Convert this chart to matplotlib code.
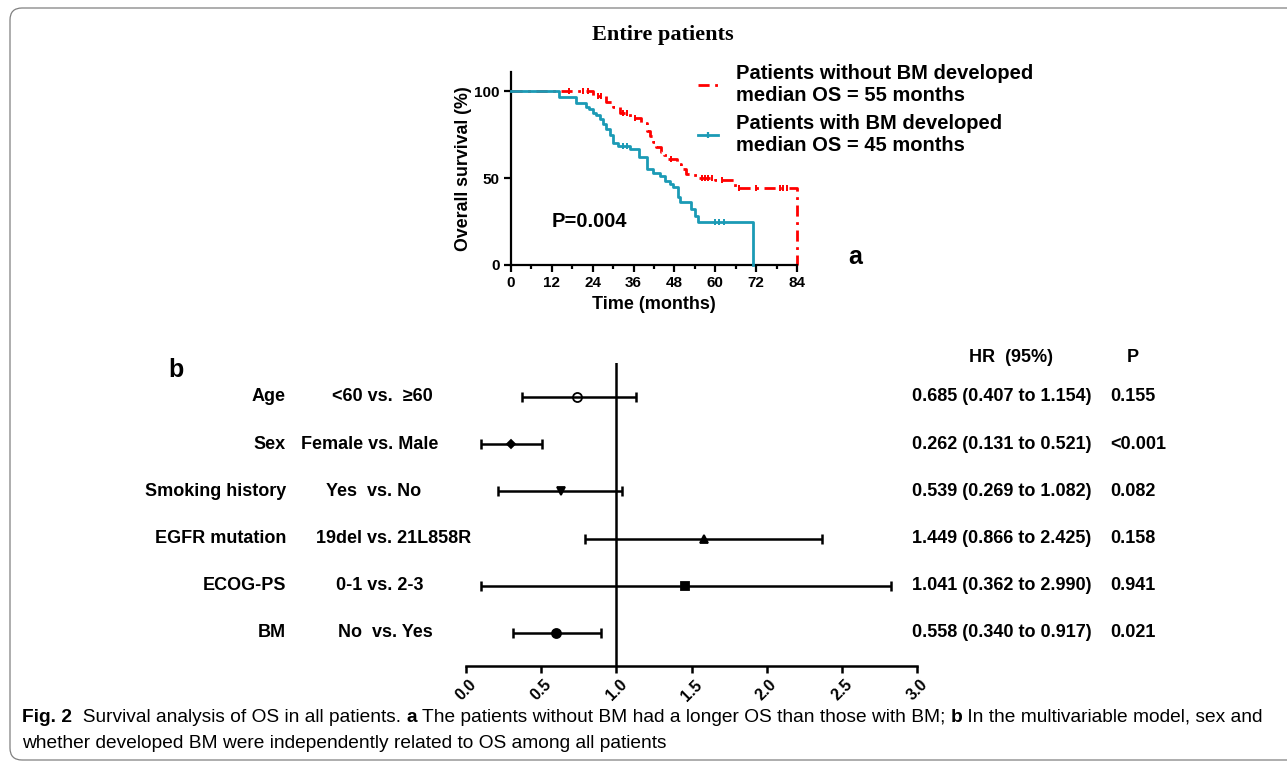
import matplotlib
matplotlib.use('Agg')
import matplotlib.pyplot as plt
import matplotlib.transforms as mtransforms
from matplotlib.patches import FancyBboxPatch
from matplotlib.lines import Line2D
from matplotlib.ticker import MultipleLocator
import numpy as np

plt.rcParams['font.family'] = ['Liberation Sans', 'DejaVu Sans']
plt.rcParams['font.weight'] = 'bold'

W, H = 1287, 766


def fx(px):
    return px / W


def fy(py):
    return 1 - py / H


# ---- panel a: Kaplan-Meier curves ----
t_nobm = [0, 24, 28, 30, 32, 35, 38.3, 39.8, 40.8, 41.7, 42.7, 44, 45, 46,
          48.8, 50, 51.5, 53, 55, 60, 65.7, 84]
s_nobm = [100, 97, 94, 91, 87.5, 84.5, 81.5, 77, 74, 71, 68, 65, 63, 61,
          58, 55, 52.5, 51.5, 50, 49, 44, 0]
cens_nobm = [17, 21, 22.5, 25.5, 26.5, 33, 34, 36.5, 47, 56, 57, 58, 59,
             62, 67, 72, 79, 80, 81]

t_bm = [0, 14, 19, 22, 23, 24, 25, 26, 27, 28, 29, 30, 31.5, 35, 37.5, 39.8,
        41.7, 43.7, 45.2, 46.6, 47.6, 49, 49.6, 53, 54, 55, 71]
s_bm = [100, 96.5, 93, 91, 89.5, 87.5, 86, 84, 81, 78, 74.5, 70, 68.5, 66.5,
        62, 55, 53, 51, 48.5, 46.5, 45, 39, 36, 32, 28, 24.5, 0]
cens_bm = [33, 34, 60, 61, 62.5]

# ---- panel b: forest plot ----
factors = ['Age', 'Sex', 'Smoking history', 'EGFR mutation', 'ECOG-PS', 'BM']
comparisons = ['<60 vs.  \u226560', 'Female vs. Male', 'Yes  vs. No',
               '19del vs. 21L858R', '0-1 vs. 2-3', 'No  vs. Yes']
hr_drawn = [0.74, 0.30, 0.63, 1.58, 1.46, 0.60]
ci_lo = [0.37, 0.10, 0.215, 0.79, 0.10, 0.31]
ci_hi = [1.13, 0.505, 1.04, 2.37, 2.83, 0.895]
hr_text = ['0.685 (0.407 to 1.154)', '0.262 (0.131 to 0.521)',
           '0.539 (0.269 to 1.082)', '1.449 (0.866 to 2.425)',
           '1.041 (0.362 to 2.990)', '0.558 (0.340 to 0.917)']
p_text = ['0.155', '<0.001', '0.082', '0.158', '0.941', '0.021']
markers = ['o', 'D', 'v', '^', 's', 'o']
marker_fill = ['none', 'k', 'k', 'k', 'k', 'k']
marker_size = [6.5, 4, 5.5, 5.5, 6, 6.5]
comp_x = [382, 370, 374, 394, 380, 385]  # centre of the comparison text, px

RED = '#ff0000'
BLUE = '#1b9ab5'

fig = plt.figure(figsize=(W / 100, H / 100), dpi=100)

# rounded frame around the figure (right side runs off the image)
frame = FancyBboxPatch((0.10, 0.06), 13.6, 7.52,
                       boxstyle='round,pad=0,rounding_size=0.12',
                       transform=fig.dpi_scale_trans, fill=False,
                       ec='#808080', lw=0.9)
fig.add_artist(frame)

# ----- KM plot -----
ax1 = fig.add_axes([fx(511), fy(265), (797 - 511) / W, (265 - 72) / H])


def surv_at(ts, ss, x):
    i = np.searchsorted(ts, x, side='right') - 1
    return ss[i]


ax1.step(t_nobm, s_nobm, where='post', color=RED, lw=2,
         linestyle=(0, (4, 2, 1, 2)), clip_on=False, zorder=2)
ax1.plot(cens_nobm, [surv_at(t_nobm, s_nobm, c) for c in cens_nobm], ls='none',
         marker='|', ms=4, mew=1.4, color=RED, zorder=2)
ax1.step(t_bm, s_bm, where='post', color=BLUE, lw=2, clip_on=False, zorder=3)
ax1.plot(cens_bm, [surv_at(t_bm, s_bm, c) for c in cens_bm], ls='none',
         marker='|', ms=4, mew=1.4, color=BLUE, zorder=3)

ax1.set_xlim(0, 84)
ax1.set_ylim(0, 111)
ax1.set_xticks(np.arange(0, 85, 12))
ax1.xaxis.set_minor_locator(MultipleLocator(6))
ax1.set_yticks([0, 50, 100])
for s in ['top', 'right']:
    ax1.spines[s].set_visible(False)
for s in ['left', 'bottom']:
    ax1.spines[s].set_linewidth(1.6)
ax1.tick_params(which='major', width=1.6, length=5, labelsize=11, pad=3)
ax1.tick_params(which='minor', width=1.6, length=3)
ax1.set_xlabel('Time (months)', fontsize=13, fontweight='bold', labelpad=4)
ax1.set_ylabel('Overall survival (%)', fontsize=12.8, fontweight='bold',
               labelpad=2)
ax1.text(12, 22, 'P=0.004', fontsize=14.5)

h_red = Line2D([], [], color=RED, lw=2, linestyle=(0, (4, 2, 1, 2)))
h_blue = Line2D([], [], color=BLUE, lw=2, marker='|', ms=5, mew=1.6)
ax1.legend([h_red, h_blue],
           ['Patients without BM developed\nmedian OS = 55 months',
            'Patients with BM developed\nmedian OS = 45 months'],
           loc='upper left', bbox_to_anchor=(fx(698), fy(64)),
           bbox_transform=fig.transFigure, frameon=False, fontsize=14.5,
           handlelength=1.0, handletextpad=0.9, labelspacing=0.45,
           borderpad=0, borderaxespad=0, numpoints=1)

fig.text(fx(663), fy(35), 'Entire patients', ha='center', va='center',
         fontsize=16, family='Liberation Serif', weight='bold')
fig.text(fx(855), fy(257), 'a', ha='center', va='center', fontsize=18)

# ----- forest plot -----
ax2 = fig.add_axes([fx(466), fy(666), (917 - 466) / W, (666 - 363) / H])
rows = np.arange(len(factors), 0, -1)
for i, y in enumerate(rows):
    ax2.errorbar(hr_drawn[i], y,
                 xerr=[[hr_drawn[i] - ci_lo[i]], [ci_hi[i] - hr_drawn[i]]],
                 fmt='none', ecolor='k', elinewidth=1.8, capsize=3.5,
                 capthick=1.8)
    ax2.plot(hr_drawn[i], y, marker=markers[i], ms=marker_size[i],
             mfc=marker_fill[i], mec='k', mew=1.3, color='k', zorder=4)
ax2.axvline(1, color='k', lw=1.8)
ax2.set_xlim(0, 3)
ax2.set_ylim(0.3, 6.72)
ax2.set_xticks(np.arange(0, 3.01, 0.5))
ax2.set_xticklabels(['%.1f' % v for v in np.arange(0, 3.01, 0.5)],
                    rotation=45, ha='center')
ax2.set_yticks([])
for s in ['top', 'right', 'left']:
    ax2.spines[s].set_visible(False)
ax2.spines['bottom'].set_linewidth(1.8)
ax2.tick_params(axis='x', width=1.8, length=5, labelsize=11.5, pad=3)

tr = mtransforms.blended_transform_factory(fig.transFigure, ax2.transData)
for i, y in enumerate(rows):
    ax2.text(fx(286), y, factors[i], transform=tr, ha='right', va='center',
             fontsize=13)
    ax2.text(fx(comp_x[i]), y, comparisons[i], transform=tr, ha='center',
             va='center', fontsize=13)
    ax2.text(fx(912), y, hr_text[i], transform=tr, ha='left', va='center',
             fontsize=13)
    ax2.text(fx(1110), y, p_text[i], transform=tr, ha='left', va='center',
             fontsize=13)

fig.text(fx(1011), fy(358), 'HR  (95%)', ha='center', va='center', fontsize=13)
fig.text(fx(1133), fy(358), 'P', ha='center', va='center', fontsize=13)
fig.text(fx(176), fy(370), 'b', ha='center', va='center', fontsize=18)

# ----- caption -----
bg = fig.add_axes([0, 0, 1, 1], zorder=-1)
bg.axis('off')
cap_family = ['Liberation Sans', 'DejaVu Sans']


def chain(pieces, x, y, size):
    out = []
    t = bg.text(x, y, pieces[0][0], weight=pieces[0][1], ha='left',
                va='center', transform=fig.transFigure, family=cap_family,
                fontsize=size)
    out.append(t)
    for txt, w in pieces[1:]:
        t = bg.annotate(txt, xy=(1, 0), xycoords=t, ha='left', va='bottom',
                        weight=w, family=cap_family, fontsize=size)
        out.append(t)
    return out


line1 = chain([('Fig. 2', 'bold'),
               ('  Survival analysis of OS in all patients. ', 'normal'),
               ('a', 'bold'),
               (' The patients without BM had a longer OS than those with BM; ',
                'normal'),
               ('b', 'bold'),
               (' In the multivariable model, sex and', 'normal')],
              fx(22), fy(717), 12)
line2 = chain([('whether developed BM were independently related to OS among '
                'all patients', 'normal')], fx(22), fy(743), 12)

# shrink the caption so the first line spans the same width as the reference
fig.canvas.draw()
r = fig.canvas.get_renderer()
right = line1[-1].get_window_extent(r).x1
scale = (1262 - 22) / (right - 22)
for t in line1 + line2:
    t.set_fontsize(12 * scale)

fig.savefig('out.png', dpi=100)
